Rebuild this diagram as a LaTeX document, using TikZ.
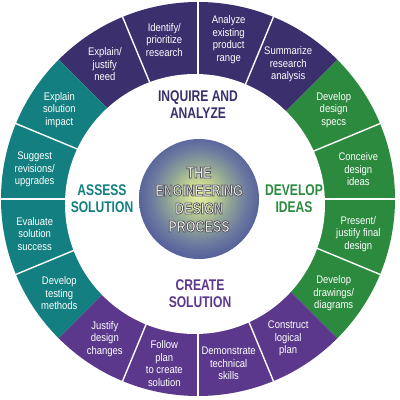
\documentclass[tikz,border=0pt]{standalone}
\usepackage{fontspec}
\setmainfont{Liberation Sans}[FakeStretch=0.86]
\newfontfamily\labfont{Liberation Sans}[FakeStretch=0.78]
\usetikzlibrary{calc}
\definecolor{indigoc}{RGB}{59,47,109}
\definecolor{violetc}{RGB}{91,56,140}
\definecolor{greenc}{RGB}{43,138,62}
\definecolor{tealc}{RGB}{19,127,128}
\definecolor{sph0}{RGB}{236,240,170}
\definecolor{sph1}{RGB}{205,220,145}
\definecolor{sph2}{RGB}{145,165,150}
\definecolor{sph3}{RGB}{108,122,160}
\definecolor{sph4}{RGB}{88,100,155}
\definecolor{lt}{RGB}{255,255,250}
\pgfdeclareradialshading{sphere}{\pgfpoint{0bp}{2bp}}{color(0bp)=(sph0); color(5bp)=(sph1); color(13bp)=(sph2); color(20bp)=(sph3); color(25bp)=(sph4); color(50bp)=(sph4)}
% outlined text: fill then stroke (text render mode 2)
\newcommand\outlon{\special{pdf:literal direct 2 Tr 0.75 w 0.33 0.33 0.37 RG}}
\newcommand\outloff{\special{pdf:literal direct 0 Tr}}
\tikzset{
  seg/.style={text=white, align=center, inner sep=0pt, font=\fontsize{11}{12.5}\selectfont},
  quad/.style={align=center, inner sep=0pt, font=\labfont\bfseries\fontsize{15.5}{17}\selectfont},
  sepline/.style={white, line width=1.4pt},
  ctext/.style={text=lt, align=center, inner sep=0pt, font=\labfont\bfseries\fontsize{16}{18}\selectfont}
}
\begin{document}
\begin{tikzpicture}[x=1pt,y=1pt]
\useasboundingbox (0,0) rectangle (400,400);
\fill[white] (0,0) rectangle (400,400);
\coordinate (O) at (198,201);
\coordinate (Oi) at (195,196);
\coordinate (Om) at (196.5,198.5);
% ring quadrants
\fill[greenc] (O) -- ++(-45:197) arc[start angle=-45,end angle=45,radius=197] -- cycle;
\fill[indigoc] (O) -- ++(45:197) arc[start angle=45,end angle=135,radius=197] -- cycle;
\fill[tealc] (O) -- ++(135:197) arc[start angle=135,end angle=225,radius=197] -- cycle;
\fill[violetc] (O) -- ++(225:197) arc[start angle=225,end angle=315,radius=197] -- cycle;
% separators
\foreach \a in {0,22.5,67.5,90,112.5,157.5,180,202.5,247.5,270,292.5,337.5}
  \draw[sepline] ($(O)+(\a:100)$) -- ($(O)+(\a:200)$);
% inner white disk
\fill[white] (Oi) circle[radius=130];
% sphere
\shade[shading=sphere] (199,201) circle[radius=60];
% segment texts
\foreach \a/\t [count=\i] in {
  11.25/{Conceive\\design\\ideas},
  33.75/{Develop\\design\\specs},
  56.25/{Summarize\\research\\analysis},
  78.75/{Analyze\\existing\\product\\range},
  101.25/{Identify/\\prioritize\\research},
  123.75/{Explain/\\justify\\need},
  146.25/{Explain\\solution\\impact},
  168.75/{Suggest\\revisions/\\upgrades},
  191.25/{Evaluate\\solution\\success},
  213.75/{Develop\\testing\\methods},
  236.25/{Justify\\design\\changes},
  258.75/{Follow\\plan\\to create\\solution},
  281.25/{Demonstrate\\technical\\skills},
  303.75/{Construct\\logical\\plan},
  326.25/{Develop\\drawings/\\diagrams},
  348.75/{Present/\\justify final\\design}}
  \node[seg] (s\i) at ($(Om)+(\a:165)$) {\t};
% quadrant labels
\node[quad, text=indigoc] (inq) at (198,295) {INQUIRE AND\\ANALYZE};
\node[quad, text=greenc] (dev) at (294,201) {DEVELOP\\IDEAS};
\node[quad, text=violetc] (cre) at (200,106) {CREATE\\SOLUTION};
\node[quad, text=tealc] (ass) at (102,201.5) {ASSESS\\SOLUTION};
% center text
\node[ctext] (ctr) at (199,200.5) {\outlon THE\\\outlon ENGINEERING\\\outlon DESIGN\\\outlon PROCESS\outloff};
\end{tikzpicture}
\end{document}
